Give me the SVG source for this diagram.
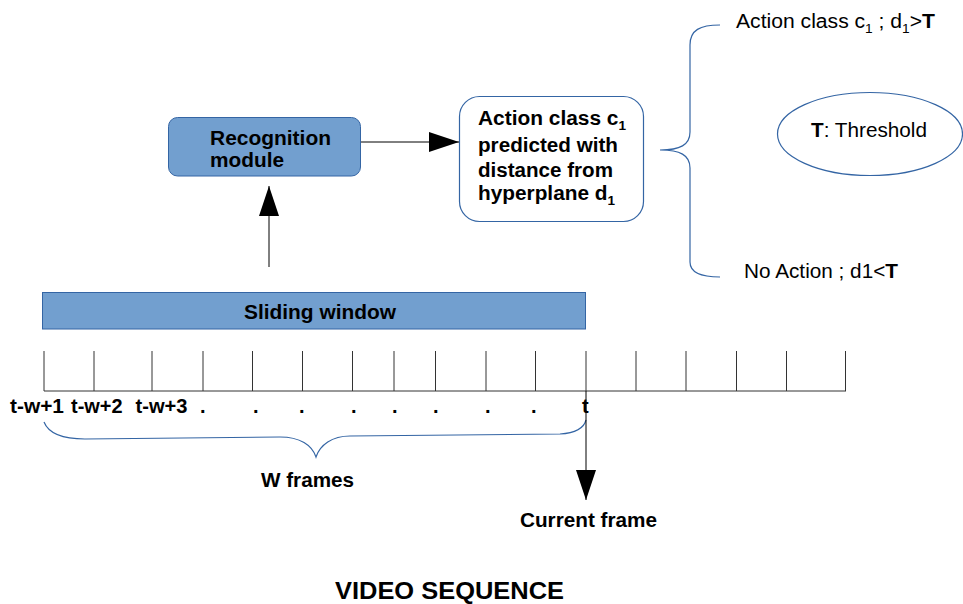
<svg xmlns="http://www.w3.org/2000/svg" width="963" height="604" viewBox="0 0 963 604">
<style>
text{font-family:"Liberation Sans",Arial,sans-serif;fill:#000;font-size:20px}
.b{font-weight:bold}
.blue{fill:#729fcf;stroke:#3465a4;stroke-width:1}
.brace{fill:none;stroke:#3465a4;stroke-width:1.2}
.ln{stroke:#000;stroke-width:1;fill:none}
.tk{stroke:#333;stroke-width:1}
.sub{font-size:13px}
</style>
<defs>
<marker id="ah" markerWidth="30" markerHeight="20" refX="30" refY="10" orient="auto" markerUnits="userSpaceOnUse">
<path d="M0,0 L30,10 L0,20 Z" fill="#000"/>
</marker>
</defs>
<rect width="963" height="604" fill="#fff"/>

<g id="recognition">
<rect class="blue" x="168.5" y="117.5" width="192" height="58.5" rx="9"/>
<text class="b" x="210" y="145" textLength="121" lengthAdjust="spacingAndGlyphs">Recognition</text>
<text class="b" x="210" y="167" textLength="74" lengthAdjust="spacingAndGlyphs">module</text>
</g>

<g id="prediction">
<rect x="459.5" y="96.5" width="184" height="125" rx="20" fill="#fff" stroke="#3465a4" stroke-width="1.2"/>
<text class="b" x="478" y="125" textLength="148" lengthAdjust="spacingAndGlyphs">Action class c<tspan class="sub" dy="5">1</tspan></text>
<text class="b" x="478" y="152" textLength="140" lengthAdjust="spacingAndGlyphs">predicted with</text>
<text class="b" x="478" y="177" textLength="135" lengthAdjust="spacingAndGlyphs">distance from</text>
<text class="b" x="478" y="200" textLength="137" lengthAdjust="spacingAndGlyphs">hyperplane d<tspan class="sub" dy="5">1</tspan></text>
</g>

<g id="outcomes">
<path class="brace" d="M720,25 C700,25 690,30 690,45 L690,132 C690,145 680,150 660,150 C680,150 690,155 690,168 L690,262 C690,272 700,277 720,277"/>
<text x="736" y="28" textLength="199" lengthAdjust="spacingAndGlyphs">Action class c<tspan class="sub" dy="5">1</tspan><tspan dy="-5"> ; d</tspan><tspan class="sub" dy="5">1</tspan><tspan dy="-5">&gt;</tspan><tspan class="b">T</tspan></text>
<text x="744" y="278" textLength="154" lengthAdjust="spacingAndGlyphs">No Action ; d1&lt;<tspan class="b">T</tspan></text>
</g>

<g id="threshold">
<ellipse cx="870" cy="134" rx="92.5" ry="41.5" fill="#fff" stroke="#3465a4" stroke-width="1.2"/>
<text x="811" y="137" textLength="116" lengthAdjust="spacingAndGlyphs"><tspan class="b">T</tspan>: Threshold</text>
</g>

<g id="sliding-window">
<rect class="blue" x="42.5" y="292.5" width="543" height="36.5"/>
<text class="b" x="244" y="319" textLength="152" lengthAdjust="spacingAndGlyphs">Sliding window</text>
</g>

<g id="timeline">
<line class="tk" x1="44" y1="391" x2="846" y2="391"/>
<g class="tk">
<line x1="44" y1="351" x2="44" y2="391"/>
<line x1="94" y1="351" x2="94" y2="391"/>
<line x1="152" y1="351" x2="152" y2="391"/>
<line x1="203" y1="351" x2="203" y2="391"/>
<line x1="252.5" y1="351" x2="252.5" y2="391"/>
<line x1="302.5" y1="351" x2="302.5" y2="391"/>
<line x1="352.5" y1="351" x2="352.5" y2="391"/>
<line x1="394" y1="351" x2="394" y2="391"/>
<line x1="435.5" y1="351" x2="435.5" y2="391"/>
<line x1="486" y1="351" x2="486" y2="391"/>
<line x1="535.5" y1="351" x2="535.5" y2="391"/>
<line x1="636" y1="351" x2="636" y2="391"/>
<line x1="686" y1="351" x2="686" y2="391"/>
<line x1="736.5" y1="351" x2="736.5" y2="391"/>
<line x1="786.5" y1="351" x2="786.5" y2="391"/>
<line x1="845.5" y1="351" x2="845.5" y2="391"/>
</g>
<g class="b">
<text x="10" y="413" textLength="54" lengthAdjust="spacingAndGlyphs">t-w+1</text>
<text x="71" y="413" textLength="51.5" lengthAdjust="spacingAndGlyphs">t-w+2</text>
<text x="135.5" y="413" textLength="52" lengthAdjust="spacingAndGlyphs">t-w+3</text>
<text x="200" y="413">.</text>
<text x="253" y="413">.</text>
<text x="299" y="413">.</text>
<text x="351" y="413">.</text>
<text x="392" y="413">.</text>
<text x="433" y="413">.</text>
<text x="485" y="413">.</text>
<text x="531" y="413">.</text>
<text x="582" y="413">t</text>
</g>
<path class="brace" d="M44,422 C48,432 60,439 85,439 L280,437 C300,437 312,445 316,457 C320,445 332,436 350,436 L560,434 C575,433 584,428 586,420"/>
<text class="b" x="261" y="487" textLength="93" lengthAdjust="spacingAndGlyphs">W frames</text>
</g>

<g id="current-frame">
<text class="b" x="520" y="527" textLength="137" lengthAdjust="spacingAndGlyphs">Current frame</text>
</g>

<g id="connectors">
<line class="ln" x1="361" y1="142" x2="459" y2="142" marker-end="url(#ah)"/>
<line class="ln" x1="269" y1="267" x2="269" y2="186" marker-end="url(#ah)"/>
<line class="tk" x1="586" y1="351" x2="586" y2="391"/>
<line class="ln" x1="586" y1="391" x2="586" y2="500" marker-end="url(#ah)"/>
</g>

<text class="b" x="335" y="599" style="font-size:23px" textLength="229" lengthAdjust="spacingAndGlyphs">VIDEO SEQUENCE</text>
</svg>
